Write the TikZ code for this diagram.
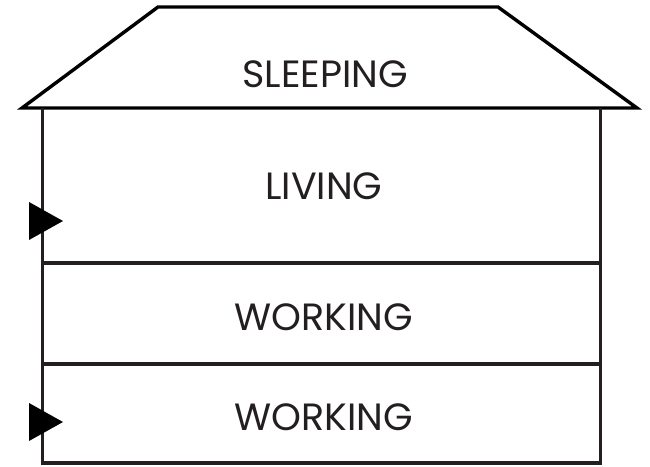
\documentclass[tikz,border=0pt]{standalone}
\usepackage{fontspec}
\setmainfont{Poppins}
\definecolor{ink}{HTML}{231F20}
\begin{document}
\begin{tikzpicture}[x=1pt,y=-1pt,
  wall/.style={draw=ink,line width=3.4pt},
  roof/.style={draw=black,line width=3.4pt,line join=miter},
  lbl/.style={font=\fontsize{38}{40}\selectfont, text=ink, inner sep=0pt, anchor=base},
  marker/.style={fill=black,draw=none}]
\useasboundingbox (0,0) rectangle (650,466);
% roof
\coordinate (r1) at (22,108);
\coordinate (r2) at (158,7);
\coordinate (r3) at (498,7);
\coordinate (r4) at (637,108);
\draw[roof] (r1) -- (r2) -- (r3) -- (r4) -- cycle;
% walls
\coordinate (wl) at (42.5,108);
\coordinate (wr) at (600.5,108);
\coordinate (bl) at (42.5,463);
\coordinate (br) at (600.5,463);
\draw[wall] (wl) -- (bl) -- (br) -- (wr);
\coordinate (f1l) at (42.5,263); \coordinate (f1r) at (600.5,263);
\coordinate (f2l) at (42.5,364); \coordinate (f2r) at (600.5,364);
\draw[wall] (f1l) -- (f1r);
\draw[wall] (f2l) -- (f2r);
% labels
\node[lbl] (sleep) at (325,87) {SLEEPING};
\node[lbl] (living) at (324,199) {LIVING};
\node[lbl] (work1) at (324,330) {WORKING};
\node[lbl] (work2) at (324,430) {WORKING};
% markers
\path[marker] (29,202) -- (63,221) -- (29,240) -- cycle;
\path[marker] (29,403) -- (63,422) -- (29,441) -- cycle;
\end{tikzpicture}
\end{document}
